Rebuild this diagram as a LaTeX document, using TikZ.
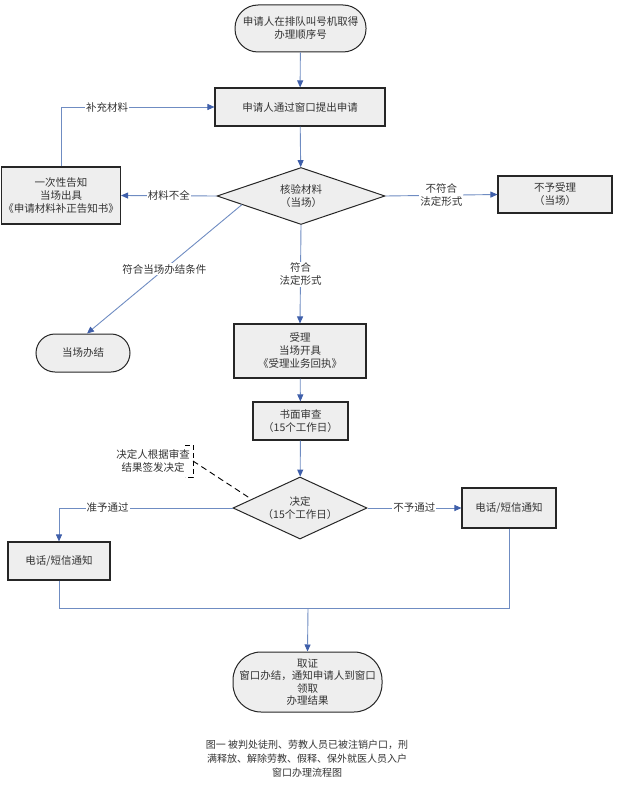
\documentclass[tikz,border=0pt]{standalone}
\usepackage{fontspec}
\setmainfont{Noto Sans CJK SC}
\usetikzlibrary{arrows.meta,shapes.geometric,calc}
\definecolor{lin}{HTML}{6F8CC2}
\definecolor{arh}{HTML}{3F5FAA}
\definecolor{fil}{HTML}{EEEEEE}
\definecolor{txt}{HTML}{333333}
\begin{document}
\begin{tikzpicture}[x=1pt,y=-1pt,
  every node/.style={text=txt,font=\fontsize{10.5}{13}\selectfont,align=center,inner sep=1pt},
  box/.style={draw=black!85,line width=1.1pt,fill=fil,rectangle},
  term/.style={draw=black!85,line width=1pt,fill=fil,rectangle,rounded corners=19pt},
  dia/.style={draw=black!85,line width=1pt,fill=fil,diamond,inner sep=0pt},
  conn/.style={draw=lin,line width=0.9pt},
  arr/.style={conn,-{Triangle[length=7pt,width=6pt,color=arh]}},
  lab/.style={fill=white,inner sep=1pt}]
\useasboundingbox (0,0) rectangle (639,789);

\node[term,minimum width=131pt,minimum height=47pt,rounded corners=23pt] (start) at (300.5,28.5) {申请人在排队叫号机取得\\办理顺序号};
\node[box,minimum width=170pt,minimum height=38pt] (apply) at (300,107) {申请人通过窗口提出申请};
\node[dia,minimum width=168pt,minimum height=57pt,aspect=2.95] (check) at (301,196) {核验材料\\（当场）};
\node[box,minimum width=119pt,minimum height=57pt] (notice) at (61,195.5) {一次性告知\\当场出具\\《申请材料补正告知书》};
\node[box,minimum width=114pt,minimum height=37pt] (reject) at (555,194.5) {不予受理\\（当场）};
\node[term,minimum width=94pt,minimum height=38pt] (done) at (83,353) {当场办结};
\node[box,minimum width=132pt,minimum height=54pt] (accept) at (300,351) {受理\\当场开具\\《受理业务回执》};
\node[box,minimum width=95pt,minimum height=38pt] (review) at (300.5,421) {书面审查\\（15个工作日）};
\node[dia,minimum width=134pt,minimum height=62pt,aspect=2.16] (decide) at (300,508) {决定\\（15个工作日）};
\node[box,minimum width=102pt,minimum height=38pt] (notifyL) at (59,561) {电话/短信通知};
\node[box,minimum width=94pt,minimum height=40pt] (notifyR) at (509,508) {电话/短信通知};
\node[term,minimum width=149pt,minimum height=60pt,rounded corners=28pt,font=\fontsize{10.5}{12.5}\selectfont] (fetch) at (307.5,682) {取证\\窗口办结，通知申请人到窗口\\领取\\办理结果};
\node (note) at (153,461) {决定人根据审查\\结果签发决定};
\node[font=\fontsize{10}{14}\selectfont] (caption) at (307,759) {图一 被判处徒刑、劳教人员已被注销户口，刑\\满释放、解除劳教、假释、保外就医人员入户\\窗口办理流程图};

\coordinate (merge) at (308,608);
\coordinate (br) at (193,461);

\draw[arr] (start) -- (apply);
\draw[arr] (apply) -- (check);
\draw[arr] (check.west) -- node[lab] {材料不全} (notice.east);
\draw[arr] (notice.north) |- node[lab,pos=0.65] {补充材料} (apply.west);
\draw[arr] (check.east) -- node[lab] {不符合\\法定形式} (reject.west);
\draw[arr] ($(check.west)!0.3!(check.south)$) -- node[lab] {符合当场办结条件} ($(done.north)+(4,0)$);
\draw[arr] (check.south) -- node[lab] {符合\\法定形式} (accept.north);
\draw[arr] (accept) -- (review);
\draw[arr] (review) -- (decide);
\draw[arr] (decide.west) -| node[lab,pos=0.36] {准予通过} (notifyL.north);
\draw[arr] (decide.east) -- node[lab] {不予通过} (notifyR.west);
\draw[conn] (notifyL.south) |- (merge);
\draw[conn] (notifyR.south) |- (merge);
\draw[arr] (merge) -- (fetch.north);
\draw[black,line width=0.9pt,dashed,dash pattern=on 5pt off 3pt] (185,445) -- (193,445) -- (193,477) -- (185,477);
\draw[black,line width=0.9pt,dash pattern=on 6pt off 4pt] (br) -- ($(decide.west)!0.28!(decide.north)$);
\end{tikzpicture}
\end{document}
